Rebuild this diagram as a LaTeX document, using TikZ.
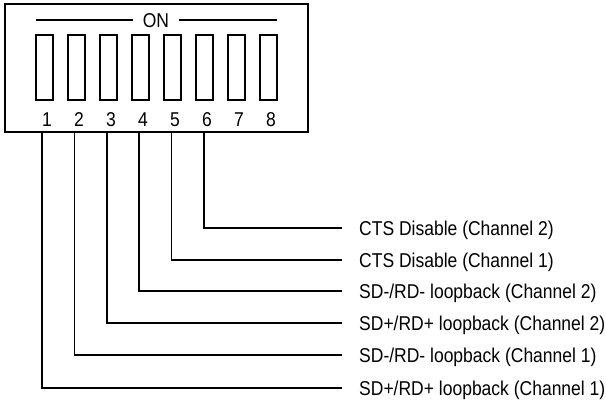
\documentclass[tikz,border=0pt]{standalone}
\usepackage{fontspec}
\setmainfont[FakeStretch=0.875]{Liberation Sans}
\begin{document}
\begin{tikzpicture}[x=1pt,y=-1pt,
  every node/.style={font=\fontsize{20}{24}\selectfont},
  wire/.style={line width=1.6pt, line join=miter},
  frame/.style={draw, line width=1.6pt, inner sep=0pt, minimum width=303pt, minimum height=128pt},
  switchbox/.style={draw, line width=1.6pt, inner sep=0pt, minimum width=17pt, minimum height=65pt},
  numlabel/.style={inner sep=0pt, anchor=base},
  sidelabel/.style={anchor=base west, inner sep=0pt}]
\useasboundingbox (0,0) rectangle (606,402);
% outer DIP housing
\node[frame] (box) at (156.5,68) {};
% ON marker
\node[numlabel] (on) at (156,27.5) {ON};
\coordinate (onL) at (36,20);
\coordinate (onR) at (277,20);
\draw[wire] (onL) -- ([xshift=-10pt]on.west |- onL);
\draw[wire] ([xshift=10pt]on.east |- onR) -- (onR);
% switches and numbers
\foreach \i in {1,...,8} {
  \node[switchbox] (sw\i) at ({44.5+32*(\i-1)},67.5) {};
  \node[numlabel] (n\i) at ({47+32*(\i-1)},126) {\i};
}
% labels
\node[sidelabel] (l6) at (359,235.5) {CTS Disable (Channel 2)};
\node[sidelabel] (l5) at (359,267.5) {CTS Disable (Channel 1)};
\node[sidelabel] (l4) at (359,298.5) {SD-/RD- loopback (Channel 2)};
\node[sidelabel] (l3) at (359,330.5) {SD+/RD+ loopback (Channel 2)};
\node[sidelabel] (l2) at (359,362.5) {SD-/RD- loopback (Channel 1)};
\node[sidelabel] (l1) at (359,395) {SD+/RD+ loopback (Channel 1)};
% lead wires
\foreach \i/\x/\y in {1/42/388,2/74.4/355,3/106.8/323,4/139.2/291,5/171.6/260,6/204/228} {
  \coordinate (p\i) at (\x,132);
  \draw[wire] (p\i) |- ([xshift=-17pt]l\i.west |- 0,\y);
}
\end{tikzpicture}
\end{document}
